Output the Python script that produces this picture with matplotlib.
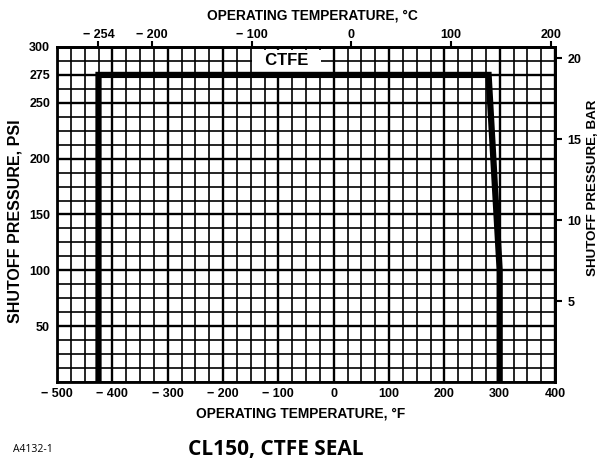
import numpy as np
import matplotlib
matplotlib.use("Agg")
import matplotlib.pyplot as plt
from matplotlib.ticker import MultipleLocator, FixedLocator

# Data
curve_temp_f = [-425, -425, 280, 300, 300]
curve_psi = [0, 275, 275, 100, 0]
x_ticks_f = [-500, -400, -300, -200, -100, 0, 100, 200, 300, 400]
y_ticks_psi = [50, 100, 150, 200, 250, 275, 300]
top_ticks_c = [-254, -200, -100, 0, 100, 200]
right_ticks_bar = [5, 10, 15, 20]
series_label = "CTFE"

W, H = 599, 463

def fmt(v):
    return ("\u2212 %d" % abs(v)) if v < 0 else "%d" % v

plt.rcParams['font.family'] = ['Liberation Sans', 'DejaVu Sans']
fig = plt.figure(figsize=(W/100, H/100), dpi=100)
ax = fig.add_axes([57/W, 1-382/H, (555-57)/W, (382-47)/H])
ax.set_xlim(-500, 400)
ax.set_ylim(0, 300)

TF = 9
ax.xaxis.set_major_locator(FixedLocator(x_ticks_f))
ax.xaxis.set_minor_locator(MultipleLocator(25))
ax.yaxis.set_major_locator(FixedLocator(y_ticks_psi))
ax.yaxis.set_minor_locator(MultipleLocator(12.5))
ax.set_xticklabels([fmt(v) for v in x_ticks_f], fontsize=TF, fontweight='bold')
ax.set_yticklabels([fmt(v) for v in y_ticks_psi], fontsize=TF, fontweight='bold')
ax.tick_params(which='both', length=0)
ax.tick_params(axis='x', pad=4)
ax.tick_params(axis='y', pad=5)
ax.grid(which='minor', color='black', lw=1.2)
ax.grid(which='major', color='black', lw=1.7)
ax.set_axisbelow(True)
for s in ax.spines.values():
    s.set_linewidth(2)

ax.plot(curve_temp_f, curve_psi, color='black', lw=4.5, solid_joinstyle='miter', zorder=5)
ax.text(-85, 287.5, "  " + series_label + "  ", fontsize=12, fontweight='bold', ha='center', va='center',
        bbox=dict(facecolor='white', edgecolor='none', pad=2.5), zorder=2, clip_on=True)

f2c = lambda f: (np.asarray(f) - 32) / 1.8
c2f = lambda c: np.asarray(c) * 1.8 + 32
top = ax.secondary_xaxis('top', functions=(f2c, c2f))
top.xaxis.set_major_locator(FixedLocator(top_ticks_c))
top.set_xticklabels([fmt(v) for v in top_ticks_c], fontsize=TF, fontweight='bold')
top.tick_params(length=4, width=1.5, direction='out', pad=0.5)
top.spines['top'].set_linewidth(2)

psi2bar = lambda p: np.asarray(p) / 14.5038
bar2psi = lambda b: np.asarray(b) * 14.5038
right = ax.secondary_yaxis('right', functions=(psi2bar, bar2psi))
right.yaxis.set_major_locator(FixedLocator(right_ticks_bar))
right.set_yticklabels([str(v) for v in right_ticks_bar], fontsize=TF, fontweight='bold')
right.tick_params(length=5, width=1.5, direction='out', pad=4)
right.spines['right'].set_linewidth(2)

def ftext(x, y, s, **kw):
    return fig.text(x/W, 1-y/H, s, ha='center', va='center', **kw)

ftext(312.5, 16, "OPERATING TEMPERATURE, \u00b0C", fontsize=9.9, fontweight='bold')
ftext(301, 413, "OPERATING TEMPERATURE, \u00b0F", fontsize=9.9, fontweight='bold')
ftext(15.5, 221, "SHUTOFF PRESSURE, PSI", fontsize=11.5, fontweight='bold', rotation=90)
ftext(593, 188, "SHUTOFF PRESSURE, BAR", fontsize=9.6, fontweight='bold', rotation=90)

fig.text(13/W, 1-450/H, "A4132-1", fontsize=7.5, va='center', ha='left', family=['Open Sans', 'DejaVu Sans'])
ftext(275.5, 449, "CL150, CTFE SEAL", fontsize=15, fontweight='bold', family=['Open Sans', 'DejaVu Sans'])

fig.savefig("out.png", dpi=100)
